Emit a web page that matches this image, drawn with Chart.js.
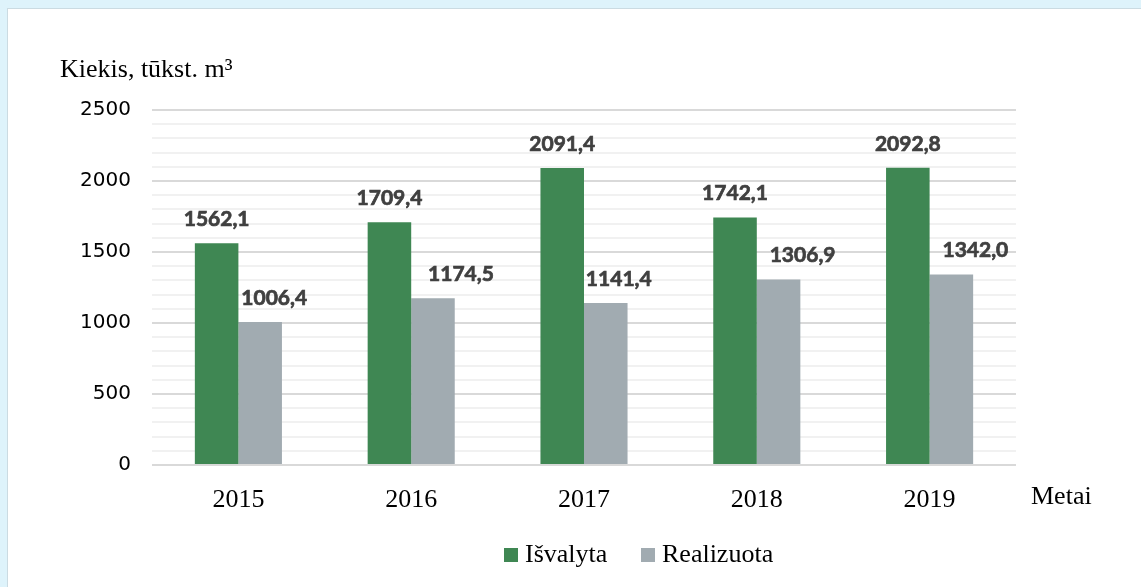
<!DOCTYPE html>
<html>
<head>
<meta charset="utf-8">
<script src="https://cdn.jsdelivr.net/npm/chart.js@4/dist/chart.umd.min.js"></script>
<style>
  html, body { margin: 0; padding: 0; background: #def3fb; overflow: hidden; }
  #panel {
    position: absolute; left: 7px; top: 8px; width: 1200px; height: 650px;
    background: #fff; border: 1px solid #cbdbe2;
  }
  #wrap { position: absolute; left: 0; top: 0; width: 1141px; height: 587px; }
</style>
</head>
<body>
<div id="panel"></div>
<div id="wrap"><canvas id="chart"></canvas></div>
<script>
const years = ['2015', '2016', '2017', '2018', '2019'];
const isvalyta = [1562.1, 1709.4, 2091.4, 1742.1, 2092.8];
const realizuota = [1006.4, 1174.5, 1141.4, 1306.9, 1342.0];
const yTicks = [0, 500, 1000, 1500, 2000, 2500];

// horizontal nudges (px) of the value labels, as placed in the original
const labelDx = [[0, 0, 0, 0, 0], [14, 28, 13, 24, 24]];

const serif = '"Liberation Serif", "Times New Roman", serif';

const extras = {
  id: 'extras',
  afterDatasetsDraw(chart) {
    const c = chart.ctx;
    c.save();
    // value labels (thin stroke to get the heavy look)
    c.font = 'bold 21px Lato';
    c.fillStyle = '#404040';
    c.strokeStyle = '#404040';
    c.lineWidth = 0.7;
    c.textAlign = 'center';
    c.textBaseline = 'middle';
    chart.data.datasets.forEach((ds, i) => {
      chart.getDatasetMeta(i).data.forEach((bar, j) => {
        const txt = ds.data[j].toFixed(1).replace('.', ',');
        c.fillText(txt, bar.x + labelDx[i][j], bar.y - 24);
        c.strokeText(txt, bar.x + labelDx[i][j], bar.y - 24);
      });
    });
    // axis names
    c.fillStyle = '#000';
    c.font = '26px ' + serif;
    c.textAlign = 'left';
    c.textBaseline = 'alphabetic';
    c.fillText('Kiekis, tūkst. m³', 60, 77);
    c.textBaseline = 'middle';
    c.fillText('Metai', 1031, 497);
    // legend
    let x = 504;
    chart.data.datasets.forEach(ds => {
      c.fillStyle = ds.backgroundColor;
      c.fillRect(x, 548, 14, 14);
      c.fillStyle = '#000';
      c.fillText(ds.label, x + 21, 555);
      x = 641;
    });
    c.restore();
  }
};

new Chart(document.getElementById('chart'), {
  type: 'bar',
  data: {
    labels: years,
    datasets: [
      { label: 'Išvalyta', data: isvalyta, backgroundColor: '#3f8753' },
      { label: 'Realizuota', data: realizuota, backgroundColor: '#a1abb1' }
    ]
  },
  options: {
    responsive: true,
    maintainAspectRatio: false,
    animation: false,
    categoryPercentage: 0.504,
    barPercentage: 1,
    layout: { padding: { left: 0, right: 125, top: 110, bottom: 72 } },
    plugins: {
      legend: { display: false },
      tooltip: { enabled: false }
    },
    scales: {
      x: {
        grid: { display: false },
        border: { display: false },
        ticks: { color: '#000', font: { family: serif, size: 26 }, padding: 12 },
        afterFit: s => { s.height = 50; }
      },
      y: {
        min: 0,
        max: 2500,
        border: { display: false },
        grid: {
          color: ctx => yTicks.includes(ctx.tick.value) ? '#d9d9d9' : '#f1f1f1',
          lineWidth: 2,
          drawTicks: false
        },
        ticks: {
          stepSize: 100,
          autoSkip: false,
          padding: 21,
          color: '#000',
          font: { family: '"DejaVu Sans"', size: 20 },
          callback: v => yTicks.includes(v) ? v : ''
        },
        afterFit: s => { s.width = 152; }
      }
    }
  },
  plugins: [extras]
});
</script>
</body>
</html>
